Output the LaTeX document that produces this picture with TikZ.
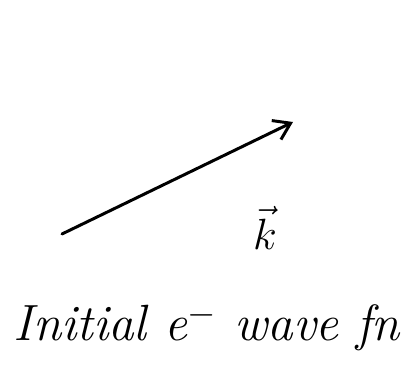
\documentclass[tikz,border=0pt]{standalone}
\usetikzlibrary{arrows.meta}
\begin{document}
\begin{tikzpicture}[font=\fontsize{29}{34}\selectfont\itshape,
trait/.style={-{Straight Barb[length=9pt,width=12pt]},line width=1.7pt,line cap=round},
texte/.style={inner sep=0pt}]
\useasboundingbox (0,0) rectangle (8.28,7.34);
\coordinate (debut) at (1.24,2.66);
\coordinate (fin) at (5.86,4.9);
\node[texte] (vecteur) at (5.3,2.78) {$\vec{k}$};
\node[texte] (legende) at (4.14,0.8) {Initial e$^-$ wave fn};
\draw[trait] (debut) -- (fin);
\end{tikzpicture}
\end{document}
